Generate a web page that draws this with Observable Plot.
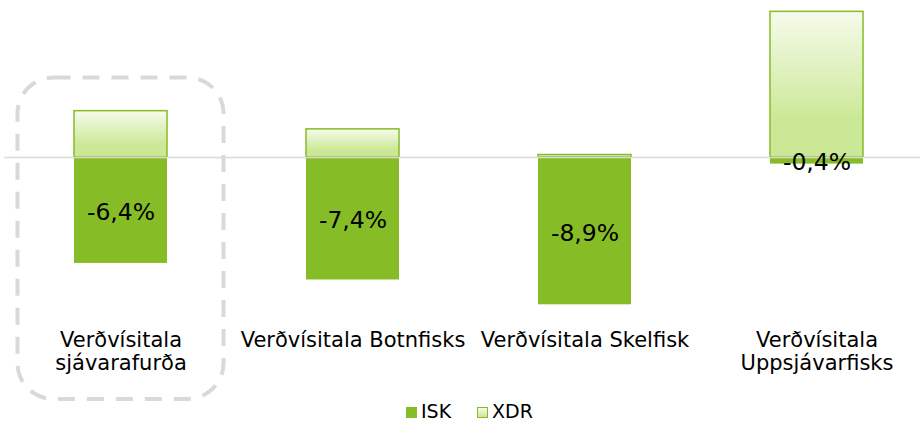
<!DOCTYPE html>
<html>
<head>
<meta charset="utf-8">
<script src="https://cdn.jsdelivr.net/npm/d3@7"></script>
<script src="https://cdn.jsdelivr.net/npm/@observablehq/plot@0.6"></script>
<style>
  html, body { margin: 0; padding: 0; background: #fff; }
  #wrap { position: relative; width: 923px; height: 422px; font-family: Verdana, "DejaVu Sans", sans-serif; overflow: hidden; }
  #legend { position: absolute; left: 0; top: 401px; width: 923px; height: 21px; font-size: 19px; color: #000; }
  .sw { position: absolute; width: 11px; height: 11px; top: 6px; box-sizing: border-box; }
  .lt { position: absolute; top: 0px; line-height: 21px; }
</style>
</head>
<body>
<div id="wrap">
  <div id="chart"></div>
  <div id="legend">
    <div class="sw" style="left:406px;background:#86bc25"></div>
    <div class="lt" style="left:421px">ISK</div>
    <div class="sw" style="left:477px;border:1.5px solid #86bc25;background:linear-gradient(#f6fbec,#cbe896)"></div>
    <div class="lt" style="left:492px">XDR</div>
  </div>
</div>
<script>
const categories = ["Verðvísitala sjávarafurða", "Verðvísitala Botnfisks", "Verðvísitala Skelfisk", "Verðvísitala Uppsjávarfisks"];
const tickLabels = ["Verðvísitala\nsjávarafurða", "Verðvísitala Botnfisks", "Verðvísitala Skelfisk", "Verðvísitala\nUppsjávarfisks"];
const iskValues = [-6.4, -7.4, -8.9, -0.4];
const xdrValues = [2.8, 1.7, 0.15, 8.8];

const isk = categories.map((c, i) => ({category: c, value: iskValues[i]}));
const xdr = categories.map((c, i) => ({category: c, value: xdrValues[i]}));
const fmt = v => v.toFixed(1).replace(".", ",") + "%";

const defsMark = () => {
  const defs = d3.create("svg:defs");
  const g = defs.append("linearGradient").attr("id", "xdrGrad").attr("x1", 0).attr("y1", 0).attr("x2", 0).attr("y2", 1);
  g.append("stop").attr("offset", "0%").attr("stop-color", "#f6fbec");
  g.append("stop").attr("offset", "75%").attr("stop-color", "#cbe896");
  g.append("stop").attr("offset", "100%").attr("stop-color", "#cbe896");
  return defs.node();
};

const highlightMark = (index, scales, values, dims) => {
  const x = scales.x, y = scales.y;
  const bw = x.bandwidth ? x.bandwidth() : 93;
  const step = x.step ? x.step() : 232.5;
  const cx = x(categories[0]) + bw / 2;
  const w = step * 0.888;
  const top = y(4.8);
  const bottom = dims.height - 2;
  const r = d3.create("svg:rect")
    .attr("x", cx - w / 2).attr("y", top)
    .attr("width", w).attr("height", bottom - top)
    .attr("rx", 36).attr("ry", 36)
    .attr("fill", "none").attr("stroke", "#d9d9d9")
    .attr("stroke-width", 4).attr("stroke-dasharray", "17 12");
  return r.node();
};

const chart = Plot.plot({
  width: 923,
  height: 401,
  marginLeft: 4,
  marginRight: 3,
  marginTop: 0,
  marginBottom: 83,
  style: {fontFamily: "Verdana, 'DejaVu Sans', sans-serif", background: "white", color: "#000"},
  x: {type: "band", domain: categories, range: [3.25, 933.25], paddingInner: 0.6, paddingOuter: 0.3, label: null},
  y: {domain: [-9, 9], range: [305.95, 8.05], axis: null},
  marks: [
    defsMark,
    Plot.barY(isk, {x: "category", y: "value", fill: "#86bc25"}),
    Plot.barY(xdr, {x: "category", y: "value", fill: "url(#xdrGrad)", stroke: "#86bc25", strokeWidth: 1.5}),
    Plot.ruleY([0], {stroke: "#d9d9d9", strokeWidth: 1.5}),
    Plot.text(isk, {x: "category", y: d => d.value / 2, text: d => fmt(d.value), fontSize: 23.5, fill: "#000", dy: 2}),
    highlightMark,
    Plot.axisX({tickSize: 0, tickPadding: 12, fontSize: 21, lineHeight: 1.11, label: null, fill: "#000",
      tickFormat: d => tickLabels[categories.indexOf(d)]})
  ]
});
document.getElementById("chart").appendChild(chart);
</script>
</body>
</html>
